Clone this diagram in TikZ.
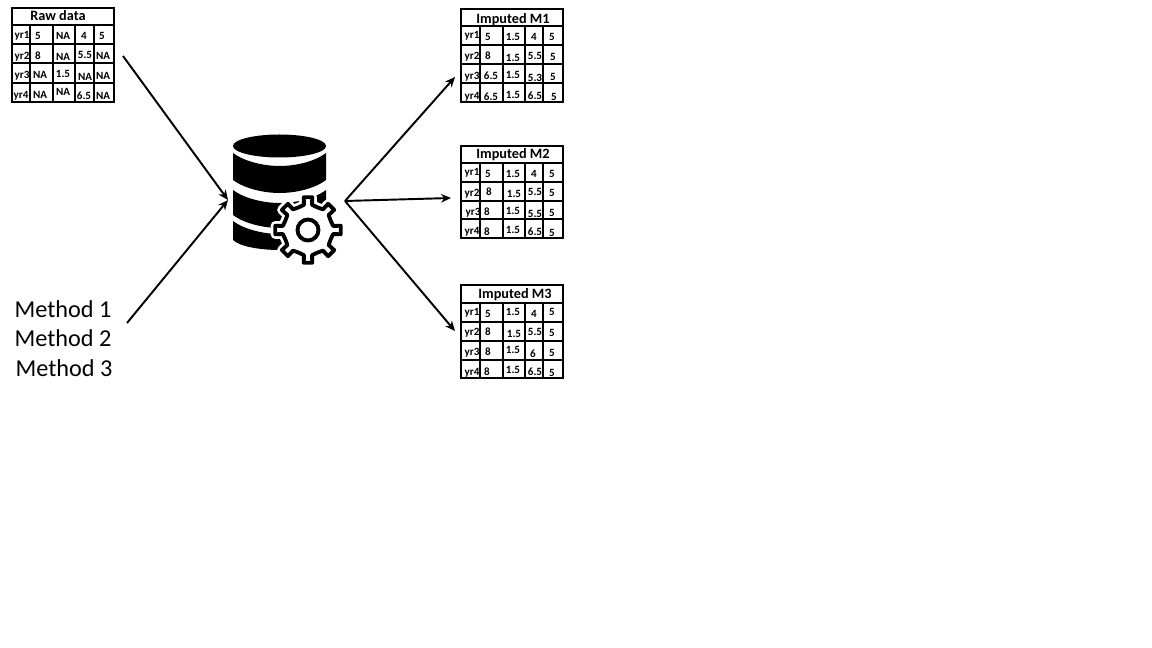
\documentclass[tikz,border=0pt]{standalone}
\usepackage{fontspec}
\setmainfont{Carlito}
\newcounter{cellno}
\usetikzlibrary{arrows.meta}
\tikzset{
  x=0.75pt,y=-0.75pt,
  gridline/.style={draw=black,line width=1.2pt},
  gridframe/.style={draw=black,line width=0.8pt},
  celltext/.style={font=\fontsize{8.3}{9}\selectfont\bfseries,inner sep=0pt,anchor=center,text height=5.3pt,text depth=0pt},
  titletext/.style={font=\fontsize{10.7}{11}\selectfont\bfseries,inner sep=0pt,anchor=center},
  methodtext/.style={font=\fontsize{18.2}{19}\selectfont,inner sep=0pt,anchor=center},
  flow/.style={-{Stealth[length=7.5pt,width=6.5pt]},line width=1.45pt,black},
}
\newcommand{\gridtable}[2]{% {x0/x1/x2/x3/x4/x5}{y0/y1/y2/y3/y4/y5}
  \foreach \xa/\xb/\xc/\xd/\xe/\xf in {#1}{%
    \foreach \ya/\yb/\yc/\yd/\ye/\yf in {#2}{%
      \foreach \yy in {\yb,\yc,\yd,\ye}{\draw[gridline] (\xa,\yy) -- (\xf,\yy);}
      \foreach \xx in {\xb,\xc,\xd,\xe}{\draw[gridline] (\xx,\yb) -- (\xx,\yf);}
      \draw[gridframe] (\xa,\ya) rectangle (\xf,\yf);
    }}%
}
\newcommand{\cells}[1]{%
  \foreach \cx/\cy/\ct in {#1}{%
    \stepcounter{cellno}%
    \node[celltext] (cell\arabic{cellno}) at (\cx,\cy) {\ct};
  }%
}
\newcommand{\gearpath}{(-9:25.5) \foreach \i in {0,...,7}{
      -- ({\i*45-9}:25.5) -- ({\i*45-7.5}:33) -- ({\i*45+7.5}:33) -- ({\i*45+9}:25.5) -- ({\i*45+22.5}:24.5)
    } -- cycle}
\begin{document}
\begin{tikzpicture}
\useasboundingbox[fill=white] (0,0) rectangle (1152,648);

% raw table
\gridtable{12/30/53/75/94/114}{8/25/44/63/83/102}
\node[titletext] (rawtitle) at (58,15.5) {Raw data};
\cells{22/35/yr1,38/36/5,63/36/NA,84/36/4,102/36/5,
22/56/yr2,38/56/8,63/57/NA,85/55/5.5,103/56/NA,
22/75/yr3,40/75/NA,63/74/1.5,85/77/NA,103/76/NA,
21/95/yr4,40/95/NA,63/92/NA,84/96/6.5,103/96/NA}

% M1
\gridtable{461/480/503/525/543/563}{9/26/45/64/83/102}
\node[titletext] (m1title) at (513,19.5) {Imputed M1};
\cells{472/35/yr1,488/37/5,513/37/1.5,534/37/4,552/37/5,
472/56/yr2,488/56/8,513/58/1.5,535/56/5.5,553/57/5,
472/76/yr3,491/76/6.5,513/75/1.5,535/78/5.3,553/77/5,
472/96/yr4,491/97/6.5,513/95/1.5,535/96/6.5,554/97/5}

% M2
\gridtable{461/480/503/525/543/563}{146/163/182/201/219/238}
\node[titletext] (m2title) at (513,154.5) {Imputed M2};
\cells{472/172/yr1,488/174/5,513/174/1.5,534/174/4,552/174/5,
472/193/yr2,489/192/8,514/194/1.5,535/192/5.5,552/193/5,
473/212/yr3,487/212/8,513/211/1.5,535/214/5.5,552/213/5,
472/231/yr4,487/232/8,513/230/1.5,535/232/6.5,552/233/5}

% M3
\gridtable{461/480/503/525/543/563}{285/303/322/341/360/378}
\node[titletext] (m3title) at (515,294.5) {Imputed M3};
\cells{472/312/yr1,488/314/5,513/312/1.5,534/314/4,552/312/5,
472/332/yr2,488/332/8,514/334/1.5,535/332/5.5,552/333/5,
472/352/yr3,488/352/8,513/350/1.5,533/354/6,552/353/5,
472/372/yr4,487/372/8,513/370/1.5,535/372/6.5,552/373/5}

% methods
\node[methodtext] (meth1) at (63,309) {Method 1};
\node[methodtext] (meth2) at (63,338) {Method 2};
\node[methodtext] (meth3) at (64,368) {Method 3};

% database
\fill[black] (279.5,146) ellipse [x radius=46.5,y radius=11.5];
\fill[black] (233,153) .. controls (245,162) and (265,166) .. (279.5,166) .. controls (295,166) and (314,162) .. (326,153)
  -- (326,180) .. controls (314,189) and (295,193) .. (279.5,193) .. controls (265,193) and (245,189) .. (233,180) -- cycle;
\fill[black] (233,190) .. controls (245,199) and (265,203) .. (279.5,203) .. controls (295,203) and (314,199) .. (326,190)
  -- (326,215) .. controls (314,224) and (295,228) .. (279.5,228) .. controls (265,228) and (245,224) .. (233,215) -- cycle;
\fill[black] (233,221) .. controls (245,230) and (265,234) .. (279.5,234) .. controls (295,234) and (314,230) .. (326,221)
  -- (326,236) .. controls (314,245) and (295,250) .. (279.5,250) .. controls (262,250) and (240,247) .. (233,240) -- cycle;

% gear
\begin{scope}[shift={(308,230)}]
  \draw[white,line width=7pt,line join=round,fill=white] \gearpath;
  \draw[black,line width=2.9pt,line join=round,fill=white] \gearpath;
  \draw[black,line width=2.9pt] (0,0) circle (10.5);
\end{scope}

% connector ends
\coordinate (rawout) at (123,56);
\coordinate (methout) at (127,323);
\coordinate (dbin) at (228,200);
\coordinate (dbout) at (345,201);
\coordinate (m1in) at (455,77);
\coordinate (m2in) at (451,198);
\coordinate (m3in) at (455,331);
\draw[flow] (rawout) -- (dbin);
\draw[flow] (methout) -- (dbin);
\draw[flow] (dbout) -- (m1in);
\draw[flow] (dbout) -- (m2in);
\draw[flow] (dbout) -- (m3in);
\end{tikzpicture}
\end{document}
